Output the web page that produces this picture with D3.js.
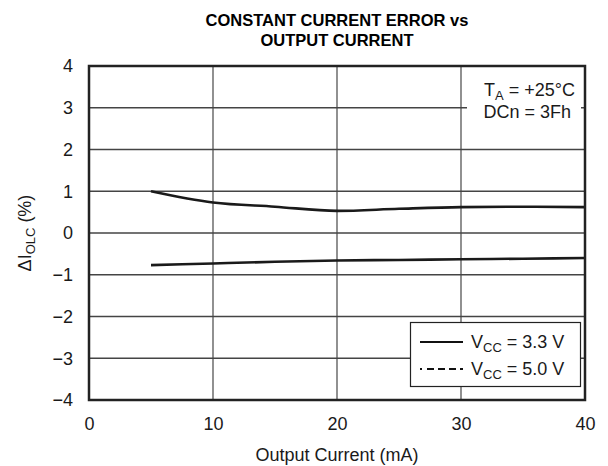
<!DOCTYPE html>
<html>
<head>
<meta charset="utf-8">
<script src="https://cdn.jsdelivr.net/npm/d3@7"></script>
<style>
  body { margin: 0; background: #fff; }
  text { font-family: "Liberation Sans", Arial, sans-serif; fill: #1a1a1a; }
</style>
</head>
<body>
<div class="chart"></div>
<script>
// data
const current = [5, 10, 15, 20, 25, 30, 35, 40];
const upperErr = [1.0, 0.73, 0.63, 0.53, 0.58, 0.62, 0.63, 0.62];
const lowerErr = [-0.77, -0.73, -0.69, -0.66, -0.645, -0.63, -0.615, -0.6];
const xTicks = [0, 10, 20, 30, 40];
const yTicks = [-4, -3, -2, -1, 0, 1, 2, 3, 4];

const width = 608, height = 466;
const m = {left: 89, right: 23, top: 66, bottom: 66};
const fs = 18;

const svg = d3.select('.chart').append('svg')
  .attr('width', width)
  .attr('height', height);

const x = d3.scaleLinear().domain([0, 40]).range([m.left, width - m.right]);
const y = d3.scaleLinear().domain([-4, 4]).range([height - m.bottom, m.top]);

// title
svg.append('text')
  .attr('x', 337).attr('y', 26)
  .attr('text-anchor', 'middle')
  .attr('font-size', 16.5).attr('font-weight', 'bold')
  .style('fill', '#000')
  .text('CONSTANT CURRENT ERROR vs');
svg.append('text')
  .attr('x', 337).attr('y', 46)
  .attr('text-anchor', 'middle')
  .attr('font-size', 16.5).attr('font-weight', 'bold')
  .style('fill', '#000')
  .text('OUTPUT CURRENT');

// grid
svg.append('g')
  .selectAll('line')
  .data(xTicks.slice(1, -1))
  .enter()
  .append('line')
  .attr('x1', d=>x(d)).attr('x2', d=>x(d))
  .attr('y1', y(4)).attr('y2', y(-4))
  .attr('stroke', '#555').attr('stroke-width', 1.3);
svg.append('g')
  .selectAll('line')
  .data(yTicks.slice(1, -1))
  .enter()
  .append('line')
  .attr('y1', d=>y(d)).attr('y2', d=>y(d))
  .attr('x1', x(0)).attr('x2', x(40))
  .attr('stroke', '#444').attr('stroke-width', 1.3);

// axes labels
const fmt = d => d < 0 ? '\u2212' + Math.abs(d) : String(d);
svg.append('g')
  .attr('transform', `translate(0,${y(-4)})`)
  .call(d3.axisBottom(x).tickValues(xTicks).tickSize(0).tickPadding(17).tickFormat(fmt))
  .call(g=>g.select('.domain').remove())
  .call(g=>g.selectAll('text').attr('font-size', fs).style('font-family', '"Liberation Sans", Arial, sans-serif').style('fill', '#1a1a1a'));
svg.append('g')
  .attr('transform', `translate(${x(0)},0)`)
  .call(d3.axisLeft(y).tickValues(yTicks).tickSize(0).tickPadding(16).tickFormat(fmt))
  .call(g=>g.select('.domain').remove())
  .call(g=>g.selectAll('text').attr('font-size', fs).style('font-family', '"Liberation Sans", Arial, sans-serif').style('fill', '#1a1a1a'));

svg.append('text')
  .attr('x', 337).attr('y', 461)
  .attr('text-anchor', 'middle')
  .attr('font-size', fs)
  .text('Output Current (mA)');

const yt = svg.append('text')
  .attr('transform', `translate(31,${y(0)}) rotate(-90)`)
  .attr('text-anchor', 'middle')
  .attr('font-size', fs);
yt.append('tspan').text('\u0394I');
yt.append('tspan').attr('font-size', 13).attr('dy', 4).text('OLC');
yt.append('tspan').attr('dy', -4).text(' (%)');

// series
const line = d3.line()
  .x((d,i)=>x(current[i]))
  .y(d=>y(d))
  .curve(d3.curveMonotoneX);
[upperErr, lowerErr].forEach(s=>{
  svg.append('path')
    .datum(s)
    .attr('d', line)
    .attr('fill', 'none')
    .attr('stroke', '#1a1a1a')
    .attr('stroke-width', 2.6);
});

// annotation box
svg.append('rect')
  .attr('x', 467).attr('y', 70).attr('width', 114).attr('height', 58)
  .attr('fill', '#fff');
const ta = svg.append('text')
  .attr('x', 575).attr('y', 96)
  .attr('text-anchor', 'end')
  .attr('font-size', fs);
ta.append('tspan').text('T');
ta.append('tspan').attr('font-size', 13).attr('dy', 4).text('A');
ta.append('tspan').attr('dy', -4).text(' = +25\u00B0C');
svg.append('text')
  .attr('x', 571).attr('y', 118)
  .attr('text-anchor', 'end')
  .attr('font-size', fs)
  .text('DCn = 3Fh');

// legend
const leg = svg.append('g');
leg.append('rect')
  .attr('x', 410.5).attr('y', 322.5).attr('width', 170).attr('height', 64)
  .attr('fill', '#fff').attr('stroke', '#222').attr('stroke-width', 1.2);
const legendItems = [
  {label: '3.3 V', dash: null, ly: 342},
  {label: '5.0 V', dash: '7,4', ly: 369}
];
legendItems.forEach(d=>{
  if (d.dash) {
    leg.append('line')
      .attr('x1', 420).attr('x2', 422).attr('y1', d.ly).attr('y2', d.ly)
      .attr('stroke', '#111').attr('stroke-width', 1.8);
    leg.append('line')
      .attr('x1', 427).attr('x2', 463).attr('y1', d.ly).attr('y2', d.ly)
      .attr('stroke', '#111').attr('stroke-width', 1.8)
      .attr('stroke-dasharray', d.dash);
  } else {
    leg.append('line')
      .attr('x1', 420).attr('x2', 463).attr('y1', d.ly).attr('y2', d.ly)
      .attr('stroke', '#111').attr('stroke-width', 2.2);
  }
  const t = leg.append('text')
    .attr('x', 471).attr('y', d.ly + 6)
    .attr('font-size', fs);
  t.append('tspan').text('V');
  t.append('tspan').attr('font-size', 13).attr('dy', 4).text('CC');
  t.append('tspan').attr('dy', -4).text(' = ' + d.label);
});

// frame
svg.append('rect')
  .attr('x', x(0)).attr('y', y(4))
  .attr('width', x(40) - x(0)).attr('height', y(-4) - y(4))
  .attr('fill', 'none').attr('stroke', '#222').attr('stroke-width', 2.5);
</script>
</body>
</html>
